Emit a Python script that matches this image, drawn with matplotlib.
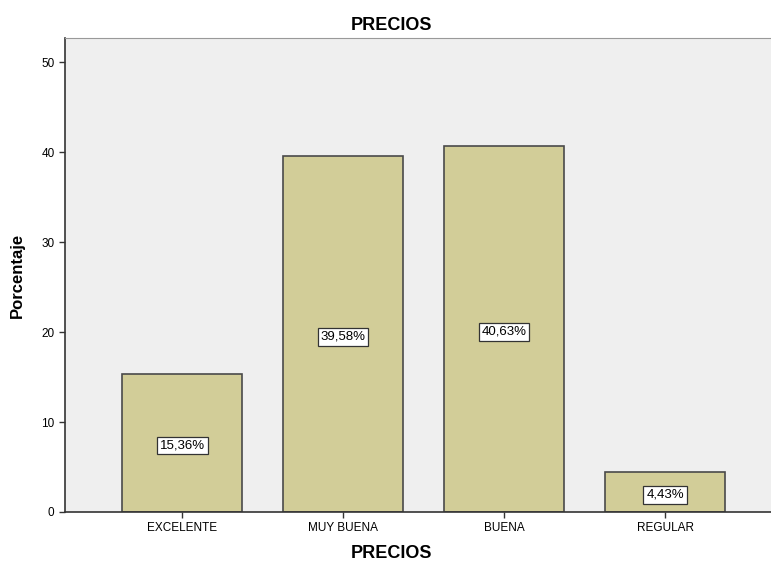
import matplotlib
matplotlib.use("Agg")
import matplotlib.pyplot as plt

categories = ['EXCELENTE', 'MUY BUENA', 'BUENA', 'REGULAR']
values = [15.36, 39.58, 40.63, 4.43]
labels = ['15,36%', '39,58%', '40,63%', '4,43%']

plt.rcParams['font.family'] = ['Liberation Sans', 'DejaVu Sans']

fig = plt.figure(figsize=(7.71, 5.62), dpi=100)
ax = fig.add_axes([65 / 771, 50 / 562, 706 / 771, 474 / 562])
ax.set_facecolor('#efefef')

x = range(len(categories))
ax.bar(x, values, width=0.745, color='#d2cd98', edgecolor='#4a4a4a', linewidth=1.2, zorder=2)

for xi, v, lab in zip(x, values, labels):
    ax.text(xi, v / 2 - 0.3, lab, ha='center', va='center', fontsize=9.5, zorder=3,
            bbox=dict(boxstyle='square,pad=0.22', facecolor='white', edgecolor='#333333', linewidth=0.9))

ax.set_xlim(-0.727, 3.658)
ax.set_ylim(0, 52.67)
ax.set_yticks([0, 10, 20, 30, 40, 50])
ax.set_xticks(list(x))
ax.set_xticklabels(categories)
ax.tick_params(axis='both', labelsize=8.5, length=4, width=1, color='#333333')

for side in ['left', 'bottom']:
    ax.spines[side].set_color('#333333')
    ax.spines[side].set_linewidth(1.2)
ax.spines['top'].set_color('#999999')
ax.spines['right'].set_visible(False)

fig.text(391 / 771, 1 - 25 / 562, 'PRECIOS', ha='center', va='center', fontsize=13, fontweight='bold')
fig.text(391 / 771, 1 - 553 / 562, 'PRECIOS', ha='center', va='center', fontsize=13, fontweight='bold')
ax.set_ylabel('Porcentaje', fontsize=12, fontweight='bold', labelpad=12)

fig.savefig('out.png', dpi=100)
